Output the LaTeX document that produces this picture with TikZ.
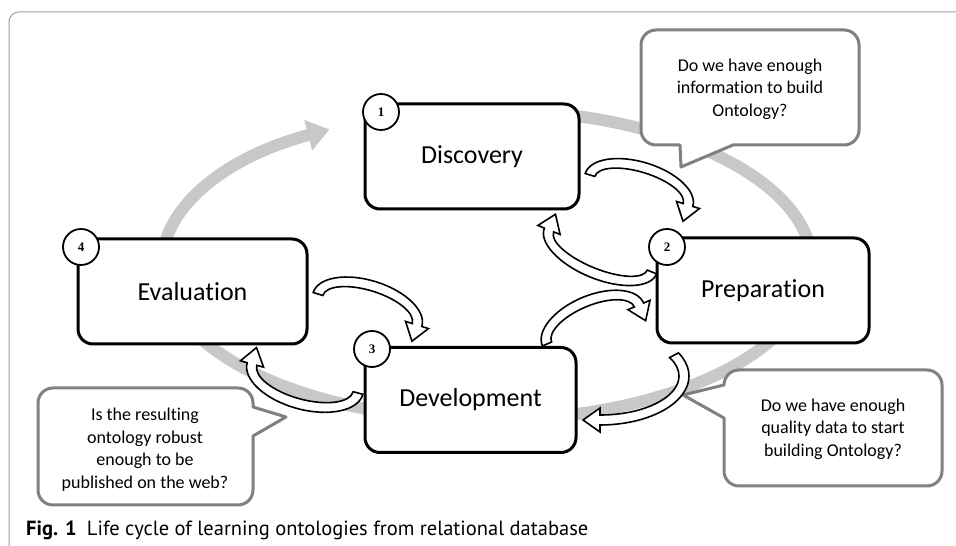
\documentclass[tikz,border=0pt]{standalone}
\usepackage{fontspec}
\setmainfont{Carlito}[RawFeature={-liga;-clig;-calt;-dlig}]
\newfontfamily\capfont{PT Sans}
\newfontfamily\numfont{Liberation Serif}
\usetikzlibrary{arrows.meta}
\definecolor{band}{RGB}{200,200,200}
\definecolor{callgray}{RGB}{128,128,128}
\definecolor{framegray}{RGB}{160,160,160}
\tikzset{
 stagebox/.style={draw=black, line width=3pt, fill=white, rounded corners=15pt, minimum width=#1, minimum height=105pt, inner sep=0pt, font=\fontsize{26}{30}\selectfont},
 numcircle/.style={circle, draw=black, line width=1.8pt, fill=white, minimum size=36pt, inner sep=0pt, font=\numfont\bfseries\fontsize{13}{13}\selectfont},
 callout/.style={draw=callgray, line width=3pt, fill=white, line join=round},
 calltext/.style={align=center, font=\fontsize{18}{22.5}\selectfont, inner sep=0pt},
 blockarrow/.style={draw=black, line width=1.6pt, fill=white, line join=miter},
 cycleband/.style={draw=band, line width=12pt, -{Triangle[length=22pt,width=30pt]}},
 frameline/.style={draw=framegray, line width=1pt},
}
% curved block arrow along an elliptic arc:
% centre x, centre y, rotation, x radius, y radius, start angle (tail), end angle (head)
\newcommand{\blockarc}[7]{%
 \pgfmathsetmacro\ca{cos(#7)}%
 \pgfmathsetmacro\sa{sin(#7)}%
 \pgfmathsetmacro\sg{ifthenelse(#6>#7,1,-1)}%
 \pgfmathsetmacro\nx{#5*\ca}%
 \pgfmathsetmacro\ny{#4*\sa}%
 \pgfmathsetmacro\nl{veclen(\nx,\ny)}%
 \pgfmathsetmacro\nx{(\nx)/\nl}%
 \pgfmathsetmacro\ny{(\ny)/\nl}%
 \pgfmathsetmacro\tx{\sg*#4*\sa}%
 \pgfmathsetmacro\ty{-1*\sg*#5*\ca}%
 \pgfmathsetmacro\tl{veclen(\tx,\ty)}%
 \pgfmathsetmacro\tx{(\tx)/\tl}%
 \pgfmathsetmacro\ty{(\ty)/\tl}%
 \pgfmathsetmacro\px{#4*\ca}%
 \pgfmathsetmacro\py{#5*\sa}%
 \begin{scope}[shift={(#1,#2)},rotate=#3]
  \draw[blockarrow] ({(#4+5)*cos(#6)},{(#5+5)*sin(#6)})
    arc[start angle=#6,end angle=#7,x radius=#4+5,y radius=#5+5]
    -- ({\px+12*(\nx)},{\py+12*(\ny)}) -- ({\px+17*(\tx)},{\py+17*(\ty)})
    -- ({\px-12*(\nx)},{\py-12*(\ny)}) -- ({(#4-5)*\ca},{(#5-5)*\sa})
    arc[start angle=#7,end angle=#6,x radius=#4-5,y radius=#5-5] -- cycle;
 \end{scope}}
\begin{document}
\begin{tikzpicture}[x=1pt,y=1pt]
\useasboundingbox (0,0) rectangle (956,546);
% frame
\draw[frameline] (9,-2) -- (9,524) arc[start angle=180,end angle=90,radius=10] -- (958,534);
% grey cycle band
\draw[cycleband] (430.6,433.6) arc[start angle=100,end angle=-241,x radius=325,y radius=155];
% callouts
\draw[callout] (733,401) -- (844,401) arc[start angle=-90,end angle=0,radius=15] -- (859,501) arc[start angle=0,end angle=90,radius=15] -- (656,516) arc[start angle=90,end angle=180,radius=15] -- (641,416) arc[start angle=180,end angle=270,radius=15] -- (680,401) -- (681,379) -- cycle;
\node[calltext] (q1) at (750,457) {Do we have enough\\information to build\\Ontology?};
\draw[callout] (724,161) -- (683,151) -- (724,128) -- (724,75) arc[start angle=180,end angle=270,radius=15] -- (927,60) arc[start angle=270,end angle=360,radius=15] -- (942,161) arc[start angle=0,end angle=90,radius=15] -- (739,176) arc[start angle=90,end angle=180,radius=15] -- cycle;
\node[calltext] (q2) at (833,117) {Do we have enough\\quality data to start\\building Ontology?};
\draw[callout] (253,139) -- (286,129) -- (253,110) -- (253,56) arc[start angle=0,end angle=-90,radius=15] -- (53,41) arc[start angle=270,end angle=180,radius=15] -- (38,143) arc[start angle=180,end angle=90,radius=15] -- (238,158) arc[start angle=90,end angle=0,radius=15] -- cycle;
\node[calltext] (q3) at (145,96.5) {Is the resulting\\ontology robust\\enough to be\\published on the web?};
% block arrows
\blockarc{639}{356}{-17.02}{51.25}{23}{180}{0}
\blockarc{600.5}{295}{157.8}{55.6}{23}{180}{0}
\blockarc{593}{221.5}{22.97}{49.96}{24}{180}{0}
\blockarc{600}{170}{0}{84}{44}{28.2}{-90}
\blockarc{367.5}{236.5}{-17.39}{51.87}{24}{180}{0}
\blockarc{305}{167.5}{164.7}{54.95}{26}{180}{0}
% stages
\node[stagebox=214pt] (disc) at (472,389.5) {Discovery};
\node[stagebox=212pt] (prep) at (763,255.5) {Preparation};
\node[stagebox=211pt] (dev) at (470.5,146) {Development};
\node[stagebox=229pt] (eval) at (192.5,254.5) {Evaluation};
\node[numcircle] (n1) at (381,434) {1};
\node[numcircle] (n2) at (667,299) {2};
\node[numcircle] (n3) at (372,197) {3};
\node[numcircle] (n4) at (81,299) {4};
% caption
\node[anchor=west, inner sep=0pt, font=\capfont\fontsize{20.5}{23}\selectfont] (cap) at (26,16) {\textbf{Fig. 1}\hspace{0.5em}Life cycle of learning ontologies from relational database};
\end{tikzpicture}
\end{document}
